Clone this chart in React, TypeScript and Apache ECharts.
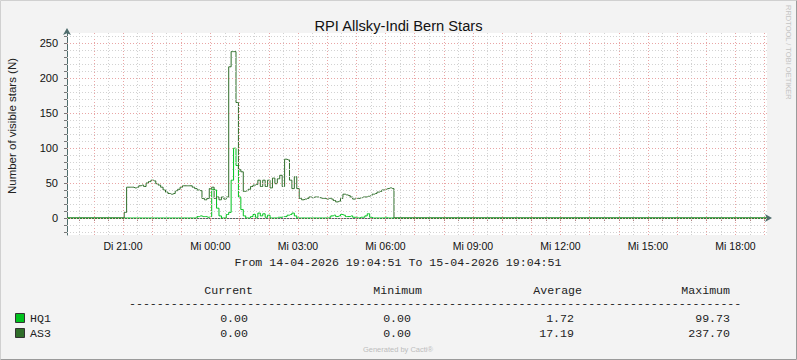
import React, { useEffect, useRef } from "react";
import * as echarts from "echarts";

const TITLE = "RPI Allsky-Indi Bern Stars";
const Y_NAME = "Number of visible stars (N)";
const RANGE_TEXT = "From 14-04-2026 19:04:51 To 15-04-2026 19:04:51";
const FOOTER = "Generated by Cacti®";
const WATERMARK = "RRDTOOL / TOBI OETIKER";

// hours since 14-04-2026 00:00
const START_H = 19 + 4 / 60 + 51 / 3600;
const END_H = START_H + 24;
const FIRST_SAMPLE_H = 21; // first listed sample (Di 21:00)
const STEP_H = 5 / 60; // 5-minute samples

const seriesNames = ["HQ1", "AS3"];
const seriesColors = ["#00C21E", "#2F6E2A"];

// HQ1 values, 5-minute steps from Di 21:00
const hq1Values = [
  0, 0, 0, 0, 0, 0, 0, 0, 0, 0,
  0, 0, 0, 0, 0, 0, 0, 0, 0, 0,
  0, 0, 0, 0, 0, 0, 0, 0, 0, 0,
  0, 2, 3, 2, 2, 1, 2, 41, 40, 14,
  3, 0, 0, 5, 8, 54, 99.73, 75, 30, 12,
  3, 0, 0, 2, 5, 1, 7, 3, 6, 1,
  4, 0, 0, 0, 1, 1, 2, 2, 4, 5,
  7, 3, 0, 0, 0, 0, 0, 0, 0, 0,
  0, 0, 0, 0, 0, 1, 3, 4, 2, 3,
  5, 4, 2, 2, 3, 1, 1, 0, 1, 1,
  3, 6, 1, 0, 0, 0, 0, 0, 1, 0,
  0, 0,
];

// AS3 values, 5-minute steps from Di 21:00
const as3Values = [
  0, 8, 44, 44, 44, 43, 44, 46, 47, 45,
  50, 52, 54, 53, 49, 47, 44, 40, 37, 35,
  34, 35, 39, 41, 44, 46, 46, 46, 46, 44,
  42, 40, 39, 28, 26, 28, 42, 44, 28, 30,
  26, 30, 27, 30, 216, 237.7, 237.7, 165, 69, 66,
  38, 39, 41, 45, 47, 48, 54, 45, 54, 45,
  54, 43, 57, 49, 56, 61, 45, 84, 83, 54,
  42, 59, 42, 28, 26, 27, 28, 30, 29, 30,
  30, 29, 28, 28, 27, 28, 27, 25, 23, 24,
  28, 34, 33, 32, 30, 27, 28, 28, 29, 30,
  30, 31, 32, 34, 35, 37, 38, 40, 41, 42,
  43, 42, 0,
];

const xLabelHours = [21, 24, 27, 30, 33, 36, 39, 42];
const yLabelValues = [0, 50, 100, 150, 200, 250];
const Y_MIN = -24.3;
const Y_MAX = 264.3;

const statHeaders = ["Current", "Minimum", "Average", "Maximum"];
const hq1Stats = ["0.00", "0.00", "1.72", "99.73"];
const as3Stats = ["0.00", "0.00", "17.19", "237.70"];

function toSeries(values: number[]) {
  const pts: [number, number][] = [[START_H, 0]];
  values.forEach((v, i) => pts.push([FIRST_SAMPLE_H + i * STEP_H, v]));
  pts.push([END_H, 0]);
  return pts;
}

const MONO = '"Liberation Mono", "DejaVu Sans Mono", monospace';
const SANS = '"Liberation Sans", Arial, sans-serif';

export default function App() {
  const ref = useRef<HTMLDivElement>(null);
  useEffect(() => {
    if (!ref.current) return;
    const chart = echarts.init(ref.current, null, { renderer: "svg" });

    const gridLines: any[] = [];
    for (let h = 19.5; h <= 43.001; h += 0.5) {
      const major = Math.abs(h - Math.round(h)) < 1e-6;
      gridLines.push({
        xAxis: h,
        lineStyle: { color: major ? "#E9A5A5" : "#D2D2D2", type: [1, 2], width: 1 },
      });
    }
    for (let v = -20; v <= 260; v += 10) {
      const major = v % 50 === 0;
      gridLines.push({
        yAxis: v,
        lineStyle: { color: major ? "#E9A5A5" : "#D2D2D2", type: [1, 2], width: 1 },
      });
    }

    const tick10: number[] = [];
    for (let v = -20; v <= 260; v += 10) tick10.push(v);
    const tickHalf: number[] = [];
    for (let h = 19.5; h <= 43.001; h += 0.5) tickHalf.push(h);

    const axisColor = "#4E6C6C";
    const colX = [248, 411, 574, 730];
    const colHeadX = [253, 422, 582, 730];

    const graphics: any[] = [
      {
        type: "polyline",
        shape: { points: [[0.5, 359.5], [0.5, 0.5], [796.5, 0.5]] },
        style: { stroke: "#D0D0D0", fill: null, lineWidth: 1 },
      },
      {
        type: "polyline",
        shape: { points: [[0.5, 359.5], [796.5, 359.5], [796.5, 0.5]] },
        style: { stroke: "#9A9A9A", fill: null, lineWidth: 1 },
      },
      {
        type: "text",
        x: 12,
        y: 126,
        rotation: Math.PI / 2,
        style: {
          text: Y_NAME,
          font: `11.5px ${SANS}`,
          fill: "#222",
          align: "center",
          verticalAlign: "middle",
          textAlign: "center",
          textVerticalAlign: "middle",
        },
      },
      {
        type: "text",
        x: 788,
        y: 5,
        rotation: -Math.PI / 2,
        style: {
          text: WATERMARK,
          font: `7.5px ${SANS}`,
          fill: "#C4C4C4",
          align: "left",
          verticalAlign: "middle",
          textAlign: "left",
          textVerticalAlign: "middle",
        },
      },
      {
        type: "text",
        x: 398,
        y: 262,
        style: {
          text: RANGE_TEXT,
          font: `11.6px ${MONO}`,
          fill: "#222",
          align: "center",
          verticalAlign: "middle",
          textAlign: "center",
          textVerticalAlign: "middle",
        },
      },
      {
        type: "text",
        x: 129,
        y: 303,
        style: {
          text: "-".repeat(88),
          font: `11.6px ${MONO}`,
          fill: "#222",
          align: "left",
          verticalAlign: "middle",
          textAlign: "left",
          textVerticalAlign: "middle",
        },
      },
      {
        type: "text",
        x: 398,
        y: 349,
        style: {
          text: FOOTER,
          font: `7.5px ${SANS}`,
          fill: "#BDBDBD",
          align: "center",
          verticalAlign: "middle",
          textAlign: "center",
          textVerticalAlign: "middle",
        },
      },
    ];
    statHeaders.forEach((h, i) => {
      graphics.push({
        type: "text",
        x: colHeadX[i],
        y: 290,
        style: {
          text: h,
          font: `11.6px ${MONO}`,
          fill: "#222",
          align: "right",
          verticalAlign: "middle",
          textAlign: "right",
          textVerticalAlign: "middle",
        },
      });
    });
    [hq1Stats, as3Stats].forEach((row, r) => {
      const y = 318 + r * 15;
      graphics.push({
        type: "rect",
        shape: { x: 15.5, y: y - 4.5, width: 9, height: 9 },
        style: { fill: seriesColors[r], stroke: "#333", lineWidth: 1 },
      });
      graphics.push({
        type: "text",
        x: 30,
        y,
        style: {
          text: seriesNames[r],
          font: `11.6px ${MONO}`,
          fill: "#222",
          align: "left",
          verticalAlign: "middle",
          textAlign: "left",
          textVerticalAlign: "middle",
        },
      });
      row.forEach((val, i) => {
        graphics.push({
          type: "text",
          x: colX[i],
          y,
          style: {
            text: val,
            font: `11.6px ${MONO}`,
            fill: "#222",
            align: "right",
            verticalAlign: "middle",
            textAlign: "right",
            textVerticalAlign: "middle",
          },
        });
      });
    });

    chart.setOption({
      animation: false,
      backgroundColor: "#F3F3F3",
      title: {
        text: TITLE,
        left: "center",
        top: 13,
        textStyle: { fontFamily: SANS, fontSize: 14.7, fontWeight: "normal", color: "#111" },
      },
      grid: {
        left: 67,
        right: 30,
        top: 33,
        bottom: 125,
        show: true,
        backgroundColor: "#FFFFFF",
        borderWidth: 0,
      },
      xAxis: {
        type: "value",
        min: START_H,
        max: END_H,
        axisLine: {
          show: true,
          lineStyle: { color: axisColor, width: 1 },
          symbol: ["none", "arrow"],
          symbolSize: [6, 7],
          symbolOffset: [0, 5],
        },
        axisTick: {
          show: true,
          length: 3,
          customValues: tickHalf,
          lineStyle: { color: "#B08080" },
        },
        axisLabel: {
          customValues: xLabelHours,
          margin: 5,
          fontFamily: SANS,
          fontSize: 10.5,
          color: "#111",
          formatter: (v: number) => {
            const h = Math.round(v);
            const day = h < 24 ? "Di" : "Mi";
            return `${day} ${String(h % 24).padStart(2, "0")}:00`;
          },
        },
        splitLine: { show: false },
      },
      yAxis: {
        type: "value",
        min: Y_MIN,
        max: Y_MAX,
        axisLine: {
          show: true,
          lineStyle: { color: axisColor, width: 1 },
          symbol: ["none", "arrow"],
          symbolSize: [6, 7],
          symbolOffset: [0, 5],
        },
        axisTick: {
          show: true,
          length: 3,
          customValues: tick10,
          lineStyle: { color: "#777" },
        },
        axisLabel: {
          customValues: yLabelValues,
          margin: 9,
          fontFamily: SANS,
          fontSize: 11,
          color: "#111",
        },
        splitLine: { show: false },
      },
      graphic: graphics,
      series: [
        {
          type: "line",
          name: "grid",
          data: [],
          z: 1,
          silent: true,
          markLine: {
            silent: true,
            symbol: ["none", "none"],
            label: { show: false },
            animation: false,
            data: gridLines,
          },
        },
        {
          type: "line",
          name: seriesNames[0],
          data: toSeries(hq1Values),
          step: "middle",
          showSymbol: false,
          z: 3,
          lineStyle: { color: seriesColors[0], width: 1 },
          itemStyle: { color: seriesColors[0] },
        },
        {
          type: "line",
          name: seriesNames[1],
          data: toSeries(as3Values),
          step: "middle",
          showSymbol: false,
          z: 4,
          lineStyle: { color: seriesColors[1], width: 1 },
          itemStyle: { color: seriesColors[1] },
        },
      ],
    });
    return () => chart.dispose();
  }, []);

  return (
    <div
      ref={ref}
      style={{ position: "fixed", left: 0, top: 0, width: 797, height: 360 }}
    />
  );
}
